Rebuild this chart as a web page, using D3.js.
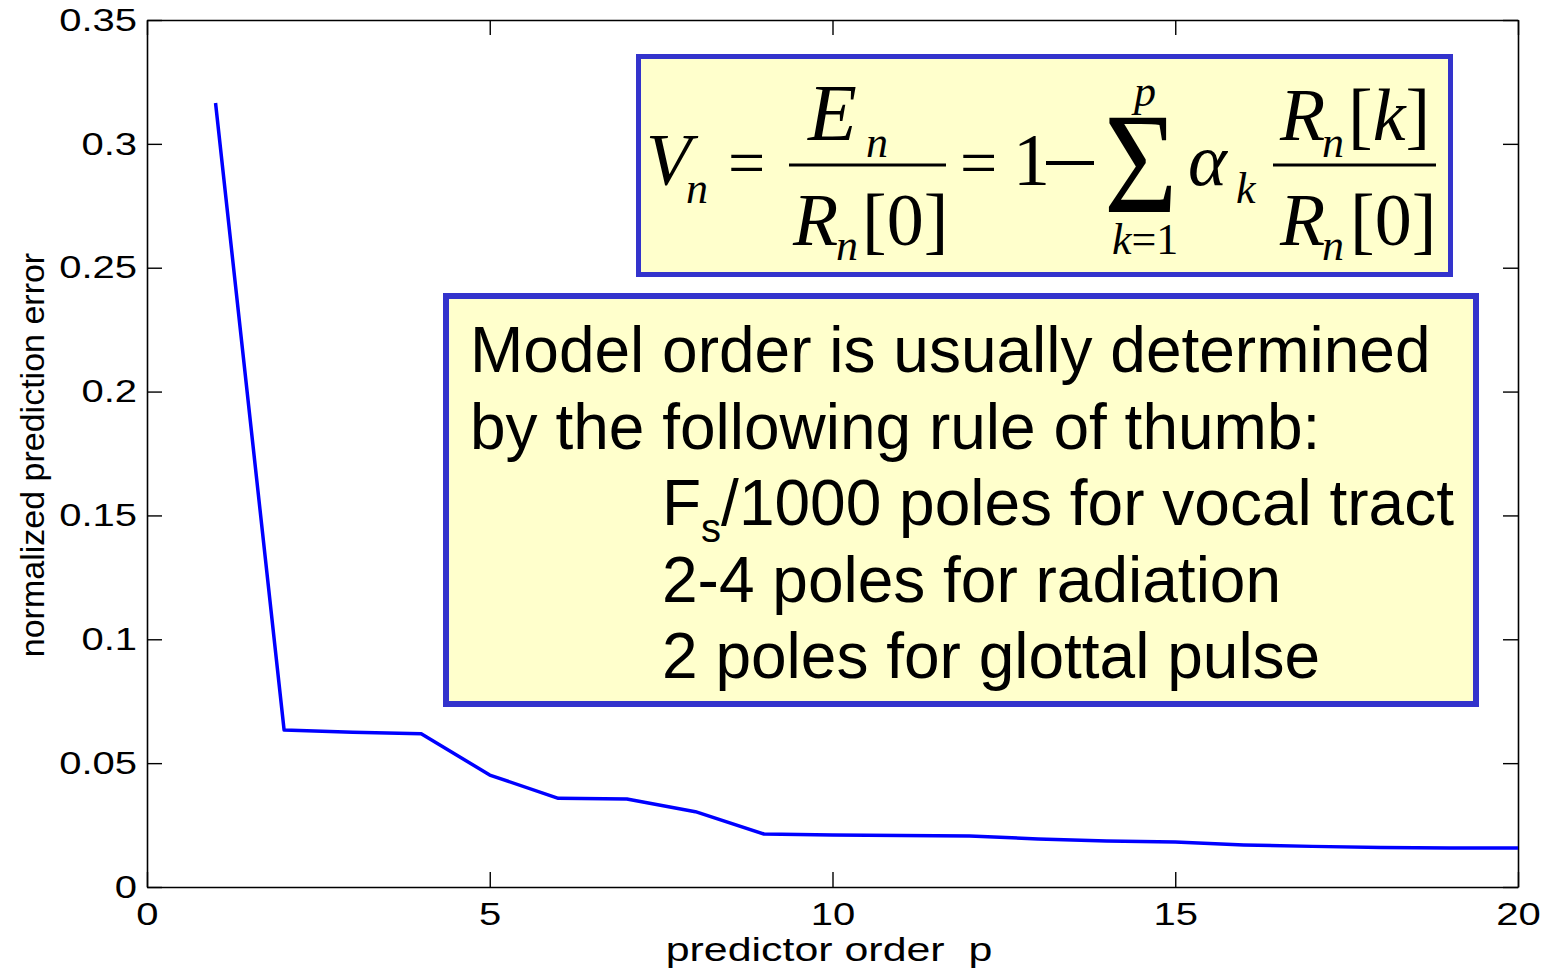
<!DOCTYPE html>
<html>
<head>
    <title>Normalized prediction error</title>
    <script src="https://cdnjs.cloudflare.com/ajax/libs/d3/7.8.5/d3.min.js"></script>
    <style>
        body { margin: 0; background: #fff; }
        svg { display: block; }
    </style>
</head>

<body>
    <div id="chart"></div>

    <script>
        // predictor order p and the normalized prediction error
        const orders = [1, 2, 3, 4, 5, 6, 7, 8, 9, 10, 11, 12, 13, 14, 15, 16, 17, 18, 19, 20]
        const errors = [0.3165, 0.0634, 0.0625, 0.0619, 0.0452, 0.0358, 0.0355, 0.0304, 0.0214, 0.0210,
            0.0208, 0.0206, 0.0194, 0.0186, 0.0182, 0.0170, 0.0164, 0.0159, 0.0157, 0.0157]
        const xTicks = [0, 5, 10, 15, 20]
        const yTicks = [0, 0.05, 0.1, 0.15, 0.2, 0.25, 0.3, 0.35]
        const yTickLabels = ["0", "0.05", "0.1", "0.15", "0.2", "0.25", "0.3", "0.35"]
        const noteLines = ["Model order is usually determined", "by the following rule of thumb:"]
        const ruleLines = ["2-4 poles for radiation", "2 poles for glottal pulse"]

        const W = 1549, H = 969
        const plotBox = { left: 147, right: 1518, top: 20, bottom: 887 }
        const TICK = 15
        const STRETCH = 1.25
        const blueBorder = "#3333cc", yellowFill = "#ffffcc"

        let svg = d3.select("#chart").append("svg").attr("width", W).attr("height", H)
        svg.append("rect").attr("width", W).attr("height", H).attr("fill", "#fff")

        let x = d3.scaleLinear().domain([0, 20]).range([plotBox.left, plotBox.right])
        let y = d3.scaleLinear().domain([0, 0.35]).range([plotBox.bottom, plotBox.top])

        // four sided matlab style box with inward ticks
        svg.append("g").attr("transform", `translate(0,${plotBox.bottom})`)
            .call(d3.axisBottom(x).tickValues(xTicks).tickSizeInner(-TICK).tickSizeOuter(0).tickPadding(15))
        svg.append("g").attr("transform", `translate(0,${plotBox.top})`)
            .call(d3.axisTop(x).tickValues(xTicks).tickSizeInner(-TICK).tickSizeOuter(0).tickFormat(""))
        svg.append("g").attr("transform", `translate(${plotBox.left},0)`)
            .call(d3.axisLeft(y).tickValues(yTicks).tickSizeInner(-TICK).tickSizeOuter(0).tickPadding(8)
                .tickFormat((d, i) => yTickLabels[i]))
        svg.append("g").attr("transform", `translate(${plotBox.right},0)`)
            .call(d3.axisRight(y).tickValues(yTicks).tickSizeInner(-TICK).tickSizeOuter(0).tickFormat(""))

        svg.selectAll(".domain").attr("stroke", "#000").attr("stroke-width", 1.6)
        svg.selectAll(".tick line").attr("stroke", "#000").attr("stroke-width", 1.4)
        // the old figure is stretched sideways, so the tick numbers are too
        svg.selectAll(".tick text")
            .attr("font-family", "'Liberation Sans', Arial, sans-serif")
            .attr("font-size", 32).attr("fill", "#000")
            .attr("transform", `scale(${STRETCH},1)`)

        svg.append("text")
            .attr("transform", `translate(829,961) scale(1.3,1)`)
            .attr("text-anchor", "middle")
            .style("white-space", "pre")
            .attr("font-family", "'Liberation Sans', Arial, sans-serif").attr("font-size", 33)
            .text("predictor order  p")

        svg.append("text")
            .attr("transform", "translate(44,455) rotate(-90)")
            .attr("text-anchor", "middle")
            .attr("font-family", "'Liberation Sans', Arial, sans-serif").attr("font-size", 34)
            .text("normalized prediction error")

        let line = d3.line().x((d, i) => x(orders[i])).y(d => y(d))
        svg.append("path").datum(errors)
            .attr("d", line)
            .attr("fill", "none")
            .attr("stroke", "#0000ff")
            .attr("stroke-width", 3.5)
            .attr("stroke-linejoin", "round")

        // formula box
        svg.append("rect").attr("x", 638.5).attr("y", 56.5).attr("width", 812).attr("height", 218)
            .attr("fill", yellowFill).attr("stroke", blueBorder).attr("stroke-width", 5)

        let f = svg.append("g").attr("font-family", "'Liberation Serif', 'Times New Roman', serif").attr("fill", "#000")
        function mtext(tx, ty, size, str, italic) {
            return f.append("text").attr("x", tx).attr("y", ty).attr("font-size", size)
                .attr("font-style", italic ? "italic" : "normal").text(str)
        }
        mtext(646, 185, 74, "V", true)
        mtext(686, 203, 44, "n", true)
        mtext(728, 185, 66, "=", false)
        f.append("line").attr("x1", 789).attr("x2", 946).attr("y1", 165).attr("y2", 165).attr("stroke", "#000").attr("stroke-width", 3)
        mtext(808, 140, 80, "E", true)
        mtext(866, 157, 44, "n", true)
        mtext(793, 245, 74, "R", true)
        mtext(836, 260, 44, "n", true)
        mtext(862, 245, 74, "[0]", false)
        mtext(960, 185, 66, "=", false)
        mtext(1013, 185, 74, "1", false)
        f.append("line").attr("x1", 1046).attr("x2", 1094).attr("y1", 163).attr("y2", 163).attr("stroke", "#000").attr("stroke-width", 4)
        f.append("text").attr("transform", "translate(1104,212) scale(1.05,1.2)").attr("font-size", 120).text("\u03a3")
        mtext(1134, 106, 44, "p", true)
        let lowLimit = mtext(1112, 254, 44, "k", true)
        lowLimit.append("tspan").attr("font-style", "normal").text("=1")
        mtext(1188, 185, 74, "\u03b1", true)
        mtext(1236, 203, 44, "k", true)
        f.append("line").attr("x1", 1273).attr("x2", 1436).attr("y1", 165).attr("y2", 165).attr("stroke", "#000").attr("stroke-width", 3)
        mtext(1280, 140, 74, "R", true)
        mtext(1322, 157, 44, "n", true)
        let bracketK = mtext(1348, 140, 74, "[", false)
        bracketK.append("tspan").attr("font-style", "italic").text("k")
        bracketK.append("tspan").text("]")
        mtext(1280, 245, 74, "R", true)
        mtext(1322, 260, 44, "n", true)
        mtext(1350, 245, 74, "[0]", false)

        // rule of thumb box
        svg.append("rect").attr("x", 446).attr("y", 296).attr("width", 1030).attr("height", 408)
            .attr("fill", yellowFill).attr("stroke", blueBorder).attr("stroke-width", 6)

        let note = svg.append("g").attr("font-family", "'Liberation Sans', Arial, sans-serif")
            .attr("font-size", 64).attr("fill", "#000")
        noteLines.forEach(function (s, i) {
            note.append("text").attr("x", 470).attr("y", 372 + i * 76.5).text(s)
        })
        let fs = note.append("text").attr("x", 662).attr("y", 372 + 2 * 76.5).text("F")
        fs.append("tspan").attr("font-size", 40).attr("dy", 17).text("s")
        fs.append("tspan").attr("dy", -17).text("/1000 poles for vocal tract")
        ruleLines.forEach(function (s, i) {
            note.append("text").attr("x", 662).attr("y", 372 + (i + 3) * 76.5).text(s)
        })
    </script>
</body>

</html>
